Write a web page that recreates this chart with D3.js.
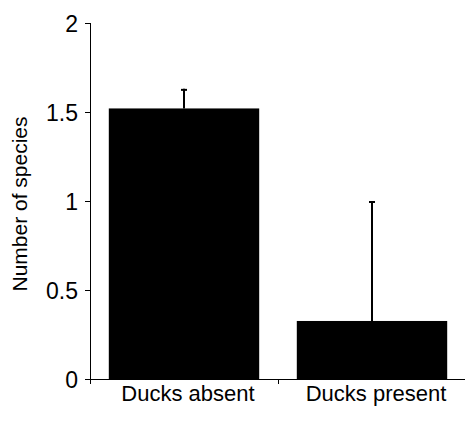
<!DOCTYPE html>
<html>
<head>
<meta charset="utf-8">
<script src="https://cdn.jsdelivr.net/npm/d3@7"></script>
<style>
  body { margin: 0; background: #fff; }
  svg { display: block; font-family: "Liberation Sans", Arial, sans-serif; }
</style>
</head>
<body>
<svg id="chart" width="465" height="421"></svg>
<script>
// chart data
var categories = ["Ducks absent", "Ducks present"];
var means = [1.52, 0.326];
var upperErr = [1.63, 1.0];
var yTicks = [0, 0.5, 1, 1.5, 2];
var yTickLabels = ["0", "0.5", "1", "1.5", "2"];

var svg = d3.select("#chart");

var x = d3.scaleBand().domain(categories).range([90, 466]).padding(0);
var y = d3.scaleLinear().domain([0, 2]).range([379, 23]);
var barW = x.bandwidth() * 0.8;

// bars
svg.append("g")
  .selectAll("rect")
  .data(categories)
  .enter()
  .append("rect")
  .attr("x", function (d) { return x(d) + (x.bandwidth() - barW) / 2; })
  .attr("y", function (d, i) { return y(means[i]); })
  .attr("width", barW)
  .attr("height", function (d, i) { return y(0) - y(means[i]); })
  .attr("fill", "#000");

// error bars (upper only)
var err = svg.append("g").attr("stroke", "#000").attr("stroke-width", 2);
err.selectAll("line.stem")
  .data(categories)
  .enter()
  .append("line")
  .attr("class", "stem")
  .attr("x1", function (d) { return x(d) + x.bandwidth() / 2; })
  .attr("x2", function (d) { return x(d) + x.bandwidth() / 2; })
  .attr("y1", function (d, i) { return y(means[i]); })
  .attr("y2", function (d, i) { return y(upperErr[i]); });
err.selectAll("line.cap")
  .data(categories)
  .enter()
  .append("line")
  .attr("class", "cap")
  .attr("x1", function (d) { return x(d) + x.bandwidth() / 2 - 3; })
  .attr("x2", function (d) { return x(d) + x.bandwidth() / 2 + 3; })
  .attr("y1", function (d, i) { return y(upperErr[i]) + 1; })
  .attr("y2", function (d, i) { return y(upperErr[i]) + 1; });

// y axis
var yAxis = svg.append("g")
  .attr("transform", "translate(90,0)")
  .call(d3.axisLeft(y).tickValues(yTicks).tickSize(5).tickPadding(7)
    .tickFormat(function (d, i) { return yTickLabels[i]; }));
yAxis.select(".domain").attr("d", "M0.5," + y(2) + "V" + (y(0) + 0.5));
yAxis.selectAll(".tick line").attr("stroke", "#000");
yAxis.selectAll(".tick text")
  .attr("fill", "#000")
  .attr("font-size", 23)
  .attr("font-family", "Liberation Sans, Arial, sans-serif")
  .attr("dy", "0.35em");

// x axis
var xAxisG = svg.append("g").attr("stroke", "#000").attr("stroke-width", 1);
xAxisG.append("line")
  .attr("x1", 85).attr("x2", 465)
  .attr("y1", y(0) + 0.5).attr("y2", y(0) + 0.5);
xAxisG.selectAll("line.xt")
  .data([x(categories[0]), x(categories[1])])
  .enter()
  .append("line")
  .attr("class", "xt")
  .attr("x1", function (d) { return d + 0.5; })
  .attr("x2", function (d) { return d + 0.5; })
  .attr("y1", y(0))
  .attr("y2", y(0) + 5);

svg.append("g")
  .selectAll("text")
  .data(categories)
  .enter()
  .append("text")
  .attr("x", function (d) { return x(d) + x.bandwidth() / 2 + 4; })
  .attr("y", 401)
  .attr("text-anchor", "middle")
  .attr("font-size", 22)
  .text(function (d) { return d; });

// y title
svg.append("text")
  .attr("transform", "translate(27,204) rotate(-90)")
  .attr("text-anchor", "middle")
  .attr("font-size", 21)
  .text("Number of species");
</script>
</body>
</html>
